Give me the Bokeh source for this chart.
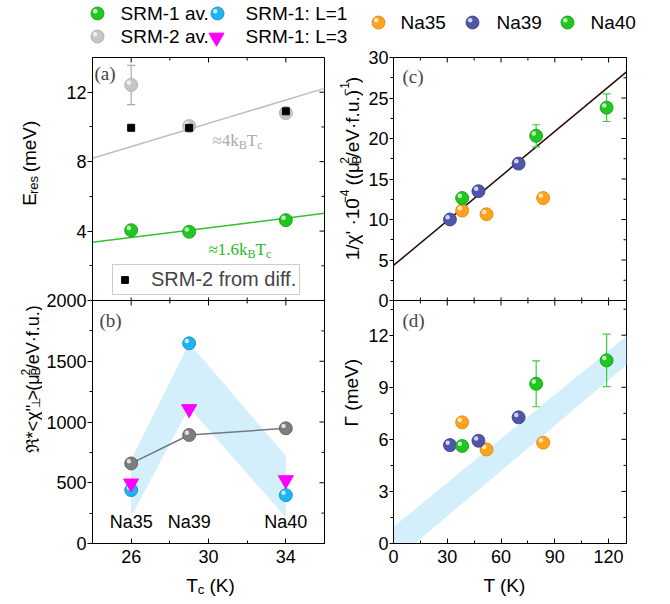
import math
from bokeh.plotting import figure
from bokeh.models import Range1d, LinearAxis, FixedTicker, Label, Legend, LegendItem, Span
from bokeh.layouts import row, column
from bokeh.embed import file_html
from bokeh.resources import INLINE
from bokeh.core.properties import value

SANS = "Liberation Sans"
SERIF = "Liberation Serif"

# ---------------- data: panels (a) and (b) ----------------
tc = [26, 29, 34]
sample_names = ["Na35", "Na39", "Na40"]
eres_srm1_av = [4.05, 3.96, 4.63]
eres_srm2_av = [12.42, 10.05, 10.8]
eres_srm2_av_err = [1.13, 0.0, 0.0]
eres_srm2_diff = [9.95, 9.95, 10.9]
fit_tc = [24, 36]
fit_srm1 = [3.35, 5.02]
fit_srm2 = [8.2, 12.22]
chi_L1 = [440, 1648, 398]
chi_L3 = [495, 1107, 522]
chi_av = [659, 893, 948]
band_b_tc = [26, 26, 29, 34, 34, 29]
band_b_chi = [220, 690, 1650, 720, 215, 1120]

# ---------------- data: panels (c) and (d) ----------------
T_na35 = [38.3, 51.9, 83.5]
invchi_na35 = [11.1, 10.65, 12.65]
gamma_na35 = [6.98, 5.42, 5.81]
T_na39 = [31.5, 47.4, 69.8]
invchi_na39 = [10.0, 13.5, 16.9]
gamma_na39 = [5.67, 5.92, 7.27]
T_na40 = [38.3, 79.6, 118.9]
invchi_na40 = [12.65, 20.33, 23.8]
invchi_na40_err = [0.0, 1.37, 1.7]
gamma_na40 = [5.62, 9.2, 10.55]
gamma_na40_err = [0.0, 1.32, 1.51]
fit_T = [0, 130]
fit_invchi = [4.33, 28.22]
band_d_T = [0, 0, 130, 130, 12]
band_d_gamma = [0, 0.96, 11.96, 10.29, 0]

# ---------------- ticks ----------------
tc_ticks = [26, 30, 34]
tc_minor = [24, 28, 32, 36]
eres_ticks = [4, 8, 12]
eres_minor = [2, 6, 10]
chi_ticks = [0, 500, 1000, 1500, 2000]
chi_minor = [250, 750, 1250, 1750]
T_ticks = [0, 30, 60, 90, 120]
T_minor = [15, 45, 75, 105]
inv_ticks = [0, 5, 10, 15, 20, 25, 30]
inv_minor = [2.5, 7.5, 12.5, 17.5, 22.5, 27.5]
gam_ticks = [0, 3, 6, 9, 12]
gam_minor = [1.5, 4.5, 7.5, 10.5, 13.5]

# each column is one frame split in two halves; the shared axis runs in these units
def a2m(v): return int(round(14000 + v * 1000))
def b2m(v): return int(round(v * 7))
def c2m(v): return int(round(42000 + v * 1400))
def d2m(v): return int(round(v * 3000))

TICK_FONT = "18px"

def yaxis_left(ticks, minor, overrides, standoff, tick_out):
    return LinearAxis(ticker=FixedTicker(ticks=ticks, minor_ticks=minor),
                      major_label_overrides=overrides,
                      major_label_text_font=SANS, major_label_text_font_size=TICK_FONT,
                      major_label_text_color="black", major_label_standoff=standoff,
                      major_tick_in=0, major_tick_out=tick_out, minor_tick_in=0, minor_tick_out=3,
                      axis_line_color="black", major_tick_line_color="black",
                      minor_tick_line_color="black")

def xaxis_bottom(ticks, minor):
    return LinearAxis(ticker=FixedTicker(ticks=ticks, minor_ticks=minor),
                      major_label_text_font=SANS, major_label_text_font_size=TICK_FONT,
                      major_label_text_color="black", major_label_standoff=6,
                      major_tick_in=5, major_tick_out=0, minor_tick_in=3, minor_tick_out=0,
                      axis_line_color="black", major_tick_line_color="black",
                      minor_tick_line_color="black")


class Geo:
    """page-pixel -> data mapping of a frame (for annotation placement)"""
    def __init__(self, sx0, sx1, x0, x1, sy_top, sy_bot, y0, y1):
        self.sx0, self.sx1, self.x0, self.x1 = sx0, sx1, x0, x1
        self.st, self.sb, self.y0, self.y1 = sy_top, sy_bot, y0, y1
    def x(self, sx):
        return self.x0 + (sx - self.sx0) * (self.x1 - self.x0) / (self.sx1 - self.sx0)
    def y(self, sy):
        return self.y0 + (self.sb - sy) * (self.y1 - self.y0) / (self.sb - self.st)
    def dx(self, px):
        return px * (self.x1 - self.x0) / (self.sx1 - self.sx0)
    def dy(self, px):
        return px * (self.y1 - self.y0) / (self.sb - self.st)


SANS_W = {' ': 0.278, '(': 0.333, ')': 0.333, 'm': 0.833, 'e': 0.556, 'V': 0.667, 'E': 0.667,
          'r': 0.333, 's': 0.5, '1': 0.556, '/': 0.278, 'χ': 0.55, "'": 0.191, '·': 0.278,
          '0': 0.556, '-': 0.333, '−': 0.584, '4': 0.556, 'μ': 0.576, 'B': 0.667, '2': 0.556,
          'f': 0.278, 'u': 0.556, '.': 0.278, 'T': 0.611, 'c': 0.5, 'K': 0.667, 'Γ': 0.556,
          'ℜ': 0.8, '*': 0.389, '<': 0.584, '>': 0.584, '⊥': 0.7}
SERIF_W = {'≈': 0.549, '4': 0.5, 'k': 0.5, 'B': 0.667, 'T': 0.611, 'c': 0.444, '1': 0.5,
           '.': 0.25, '6': 0.5, ' ': 0.25}

def tw(s, size, table):
    return sum(table.get(ch, 0.556) for ch in s) * size

def rich(p, g, frags, sx, sy, angle=0.0, font=SANS, color="black", table=SANS_W, center=False):
    total = sum(tw(f[0], f[1], table) for f in frags if (len(f) < 4 or f[3]))
    pos = -total / 2 if center else 0.0
    for f in frags:
        t, sz, sh = f[0], f[1], f[2]
        adv = f[3] if len(f) > 3 else True
        lead = len(t) - len(t.lstrip(" "))
        if lead:
            pos += lead * table[" "] * sz
            t = t.lstrip(" ")
        if angle == 0:
            fx, fy = sx + pos, sy - sh
        else:
            fx, fy = sx - sh, sy - pos
        p.add_layout(Label(x=g.x(fx), y=g.y(fy), text=t, angle=angle, text_font=font,
                           text_font_size=f"{sz}px", text_color=color, text_align="left",
                           text_baseline="alphabetic"))
        if adv:
            pos += tw(t, sz, table)


def sphere(p, x, y, color, edge, ux, uy, yr="default", size=13):
    main = p.scatter(x, y, size=size, marker="circle", fill_color=color, line_color=edge,
                     line_width=0.8, y_range_name=yr)
    hx = [xi - 2.3 * ux for xi in x]
    hy = [yi + 2.3 * uy for yi in y]
    p.scatter(hx, hy, size=4.5, marker="circle", fill_color="white", fill_alpha=0.75,
              line_color=None, y_range_name=yr)
    return main


def errbars(p, x, y, err, color, yr, cap=8):
    xs = [xi for xi, e in zip(x, err) if e > 0]
    lo = [yi - e for yi, e in zip(y, err) if e > 0]
    hi = [yi + e for yi, e in zip(y, err) if e > 0]
    p.segment(x0=xs, y0=lo, x1=xs, y1=hi, line_color=color, line_width=1.2, y_range_name=yr)
    p.scatter(xs, lo, marker="dash", size=cap, line_color=color, line_width=1.2, y_range_name=yr)
    p.scatter(xs, hi, marker="dash", size=cap, line_color=color, line_width=1.2, y_range_name=yr)


def inner_ticks(p, g, xmaj, xmin, ymaj, ymin, mid):
    top = g.y(g.st)
    right = g.x(g.sx1)
    for xs, ln in ((xmaj, 5), (xmin, 3)):
        p.segment(x0=xs, x1=xs, y0=[top] * len(xs), y1=[top - g.dy(ln)] * len(xs),
                  line_color="black", line_width=1)
        p.segment(x0=xs, x1=xs, y0=[mid - g.dy(ln)] * len(xs), y1=[mid + g.dy(3)] * len(xs),
                  line_color="black", line_width=1)
    for ys, ln in ((ymaj, 5), (ymin, 3)):
        p.segment(x0=[right] * len(ys), x1=[right - g.dx(ln)] * len(ys), y0=ys, y1=ys,
                  line_color="black", line_width=1)


def strip(w, h, x0, x1, y_top, y_bot):
    s = figure(width=w, height=h, x_range=Range1d(x0, x1), y_range=Range1d(y_bot, y_top),
               x_axis_type=None, y_axis_type=None, output_backend="svg", toolbar_location=None,
               min_border=0, outline_line_color=None, border_fill_color="white",
               background_fill_color="white")
    s.grid.visible = False
    return s


GREEN, GREEN_E = "#1fc81f", "#119411"
LGRAY, LGRAY_E = "#c6c6c6", "#a6a6a6"
BLUE, BLUE_E = "#1cb5f2", "#0b8cc4"
DGRAY, DGRAY_E = "#7d7d7d", "#575757"
ORANGE, ORANGE_E = "#ffa31f", "#d88400"
NAVY, NAVY_E = "#4f55a8", "#363a80"
MAGENTA = "#ff00ff"
BAND = "#d3effb"

TOP_H = 47          # legend strip
BOT_H = 33          # x-title strip
MID_H = 604 - TOP_H - BOT_H
TL_W = 42           # y-title strip, left column
TR_X0, TR_X1 = 330, 363   # y-title strip, right column (page x)

# ======================= left column: (a) over (b) =======================
pL = figure(frame_width=232, frame_height=486, x_range=Range1d(24, 36), y_range=Range1d(0, 28000),
            x_axis_type=None, y_axis_type=None, output_backend="svg", toolbar_location=None,
            min_border_left=92 - TL_W, min_border_right=TR_X0 - 324, min_border_top=57 - TOP_H,
            min_border_bottom=MID_H - 486 - (57 - TOP_H),
            outline_line_color="black", border_fill_color="white", background_fill_color="white")
pL.extra_y_ranges = {"a": Range1d(-14, 14), "b": Range1d(0, 4000)}
gL = Geo(92, 324, 24, 36, 57, 543, 0, 28000)
ua, ub = 28 / 486, 4000 / 486
uxL = 12 / 232

left_major = [b2m(v) for v in chi_ticks] + [a2m(v) for v in eres_ticks]
left_minor = [b2m(v) for v in chi_minor] + [a2m(v) for v in eres_minor]
left_over = {b2m(v): str(v) for v in chi_ticks}
left_over.update({a2m(v): str(v) for v in eres_ticks})
pL.add_layout(yaxis_left(left_major, left_minor, left_over, 1, 5), "left")
pL.add_layout(xaxis_bottom(tc_ticks, tc_minor), "below")
pL.add_layout(Span(location=b2m(2000), dimension="width", line_color="black", line_width=1))
inner_ticks(pL, gL, tc_ticks, tc_minor, left_major, left_minor, b2m(2000))

# (a)
pL.line(fit_tc, fit_srm2, line_color="#bdbdbd", line_width=1.5, y_range_name="a")
pL.line(fit_tc, fit_srm1, line_color="#2ec42e", line_width=1.5, y_range_name="a")
errbars(pL, tc, eres_srm2_av, eres_srm2_av_err, "#aaaaaa", "a")
sphere(pL, tc, eres_srm2_av, LGRAY, LGRAY_E, uxL, ua, "a")
sphere(pL, tc, eres_srm1_av, GREEN, GREEN_E, uxL, ua, "a")
r_sq = pL.scatter(tc, eres_srm2_diff, marker="square", size=7, fill_color="black",
                  line_color="black", y_range_name="a")

# (b)
pL.patch(band_b_tc, band_b_chi, fill_color=BAND, line_color=None, y_range_name="b")
pL.line(tc, chi_av, line_color="#777777", line_width=1.5, y_range_name="b")
sphere(pL, tc, chi_av, DGRAY, DGRAY_E, uxL, ub, "b")
sphere(pL, tc, chi_L1, BLUE, BLUE_E, uxL, ub, "b")
pL.scatter(tc, chi_L3, marker="inverted_triangle", size=15, fill_color=MAGENTA,
           line_color=MAGENTA, y_range_name="b")
pL.text(x=tc, y=[175] * len(tc), text=sample_names, y_range_name="b",
        text_font=value(SANS), text_font_size="18px", text_align="center",
        text_baseline="middle", text_color="black")

pL.add_layout(Label(x=gL.x(94), y=gL.y(73), text="(a)", text_font=SERIF, text_font_size="19px",
                    text_baseline="middle", text_align="left"))
pL.add_layout(Label(x=gL.x(99), y=gL.y(320), text="(b)", text_font=SERIF, text_font_size="19px",
                    text_baseline="middle", text_align="left"))
rich(pL, gL, [("≈4k", 17, 0), ("B", 12, -4), ("T", 17, 0), ("c", 12, -4)], 212, 140,
     font=SERIF, color="#aaaaaa", table=SERIF_W)
rich(pL, gL, [("≈1.6k", 17, 0), ("B", 12, -4), ("T", 17, 0), ("c", 12, -4)], 208, 249,
     font=SERIF, color="#22bb22", table=SERIF_W)

leg_in = Legend(items=[LegendItem(label="SRM-2 from diff.", renderers=[r_sq])],
                location=(20, 248), orientation="vertical", padding=3, margin=0, spacing=0,
                glyph_width=17, glyph_height=17, label_height=20, label_standoff=18,
                label_text_font=SANS, label_text_font_size="20px",
                border_line_color="#9a9a9a", border_line_width=1,
                background_fill_color="white", background_fill_alpha=1)
pL.add_layout(leg_in, "center")

# ======================= right column: (c) over (d) =======================
pR = figure(frame_width=233, frame_height=486, x_range=Range1d(0, 130), y_range=Range1d(0, 84000),
            x_axis_type=None, y_axis_type=None, output_backend="svg", toolbar_location=None,
            min_border_left=393 - TR_X1, min_border_right=670 - 626, min_border_top=57 - TOP_H,
            min_border_bottom=MID_H - 486 - (57 - TOP_H),
            outline_line_color="black", border_fill_color="white", background_fill_color="white")
pR.extra_y_ranges = {"c": Range1d(-30, 30), "d": Range1d(0, 28)}
gR = Geo(393, 626, 0, 130, 57, 543, 0, 84000)
uc, ud = 60 / 486, 28 / 486
uxR = 130 / 233

right_major = [d2m(v) for v in gam_ticks] + [c2m(v) for v in inv_ticks]
right_minor = [d2m(v) for v in gam_minor] + [c2m(v) for v in inv_minor]
right_over = {d2m(v): str(v) for v in gam_ticks}
right_over.update({c2m(v): str(v) for v in inv_ticks})
pR.add_layout(yaxis_left(right_major, right_minor, right_over, 1, 4), "left")
pR.add_layout(xaxis_bottom(T_ticks, T_minor), "below")
pR.add_layout(Span(location=c2m(0), dimension="width", line_color="black", line_width=1))
inner_ticks(pR, gR, T_ticks, T_minor, right_major, right_minor, c2m(0))

# (c)
pR.line(fit_T, fit_invchi, line_color="#2a0808", line_width=1.5, y_range_name="c")
errbars(pR, T_na40, invchi_na40, invchi_na40_err, "#3ccf3c", "c")
sphere(pR, T_na35, invchi_na35, ORANGE, ORANGE_E, uxR, uc, "c")
sphere(pR, T_na39, invchi_na39, NAVY, NAVY_E, uxR, uc, "c")
sphere(pR, T_na40, invchi_na40, GREEN, GREEN_E, uxR, uc, "c")

# (d)
pR.patch(band_d_T, band_d_gamma, fill_color=BAND, line_color=None, y_range_name="d")
errbars(pR, T_na40, gamma_na40, gamma_na40_err, "#3ccf3c", "d")
sphere(pR, T_na35, gamma_na35, ORANGE, ORANGE_E, uxR, ud, "d")
sphere(pR, T_na39, gamma_na39, NAVY, NAVY_E, uxR, ud, "d")
sphere(pR, T_na40, gamma_na40, GREEN, GREEN_E, uxR, ud, "d")

pR.add_layout(Label(x=gR.x(402), y=gR.y(76), text="(c)", text_font=SERIF, text_font_size="19px",
                    text_baseline="middle", text_align="left"))
pR.add_layout(Label(x=gR.x(402), y=gR.y(320), text="(d)", text_font=SERIF, text_font_size="19px",
                    text_baseline="middle", text_align="left"))

# ======================= title strips (page-pixel coordinates) =======================
y_mid_top, y_mid_bot = TOP_H, TOP_H + MID_H
tL = strip(TL_W, MID_H, 0, TL_W, y_mid_top, y_mid_bot)
gTL = Geo(0, TL_W, 0, TL_W, y_mid_top, y_mid_bot, y_mid_bot, y_mid_top)
rich(tL, gTL, [("E", 19, 0), ("res", 13, -4), (" (meV)", 19, 0)], 29, 163,
     angle=math.pi / 2, center=True)
rich(tL, gTL, [("ℜ*<χ''", 18, 0), ("⊥", 12, -3), (">", 18, 0), ("(μ", 18, 0),
               ("B", 12, -3, False), ("2", 12, 7), ("/eV·f.u.)", 18, 0)], 32, 397,
     angle=math.pi / 2, center=True)

tR = strip(TR_X1 - TR_X0, MID_H, TR_X0, TR_X1, y_mid_top, y_mid_bot)
gTR = Geo(TR_X0, TR_X1, TR_X0, TR_X1, y_mid_top, y_mid_bot, y_mid_bot, y_mid_top)
rich(tR, gTR, [("1/χ' ·10", 19, 0), ("−4", 12, 8), (" ((μ", 19, 0), ("B", 12, -4, False),
               ("2", 12, 8), ("/eV·f.u.)", 19, 0), ("−1", 12, 8), (")", 19, 0)], 352, 167,
     angle=math.pi / 2, center=True)
rich(tR, gTR, [("Γ (meV)", 19, 0)], 351, 411, angle=math.pi / 2, center=True)

tB = strip(670, BOT_H, 0, 670, 604 - BOT_H, 604)
gTB = Geo(0, 670, 0, 670, 604 - BOT_H, 604, 604, 604 - BOT_H)
rich(tB, gTB, [("T", 19, 0), ("c", 13, -4), (" (K)", 19, 0)], 210, 585, center=True)
rich(tB, gTB, [("T (K)", 19, 0)], 504, 585, center=True)

# top legend strip
tT = strip(670, TOP_H, 0, 670, 0, TOP_H)
leg_font = "19px"
left_leg_labels = ["SRM-1 av.", "SRM-2 av.", "SRM-1: L=1", "SRM-1: L=3"]
right_leg_labels = sample_names
for lbl, lx, ly in ((left_leg_labels[0], 120, 13), (left_leg_labels[1], 120, 36),
                    (left_leg_labels[2], 245, 13), (left_leg_labels[3], 245, 36),
                    (right_leg_labels[0], 400, 22), (right_leg_labels[1], 496, 22),
                    (right_leg_labels[2], 590, 22)):
    tT.add_layout(Label(x=lx, y=ly, text=lbl, text_font=SANS, text_font_size=leg_font,
                        text_align="left", text_baseline="middle", text_color="black"))
sphere(tT, [97], [13], GREEN, GREEN_E, 1, -1)
sphere(tT, [97], [36], LGRAY, LGRAY_E, 1, -1)
sphere(tT, [217], [13], BLUE, BLUE_E, 1, -1)
tT.scatter([216], [37], marker="inverted_triangle", size=15, fill_color=MAGENTA,
           line_color=MAGENTA)
sphere(tT, [378], [22], ORANGE, ORANGE_E, 1, -1)
sphere(tT, [472], [22], NAVY, NAVY_E, 1, -1)
sphere(tT, [567], [22], GREEN, GREEN_E, 1, -1)

layout = column(tT, row(tL, pL, tR, pR), tB)
open("out.html", "w").write(file_html(layout, INLINE))
